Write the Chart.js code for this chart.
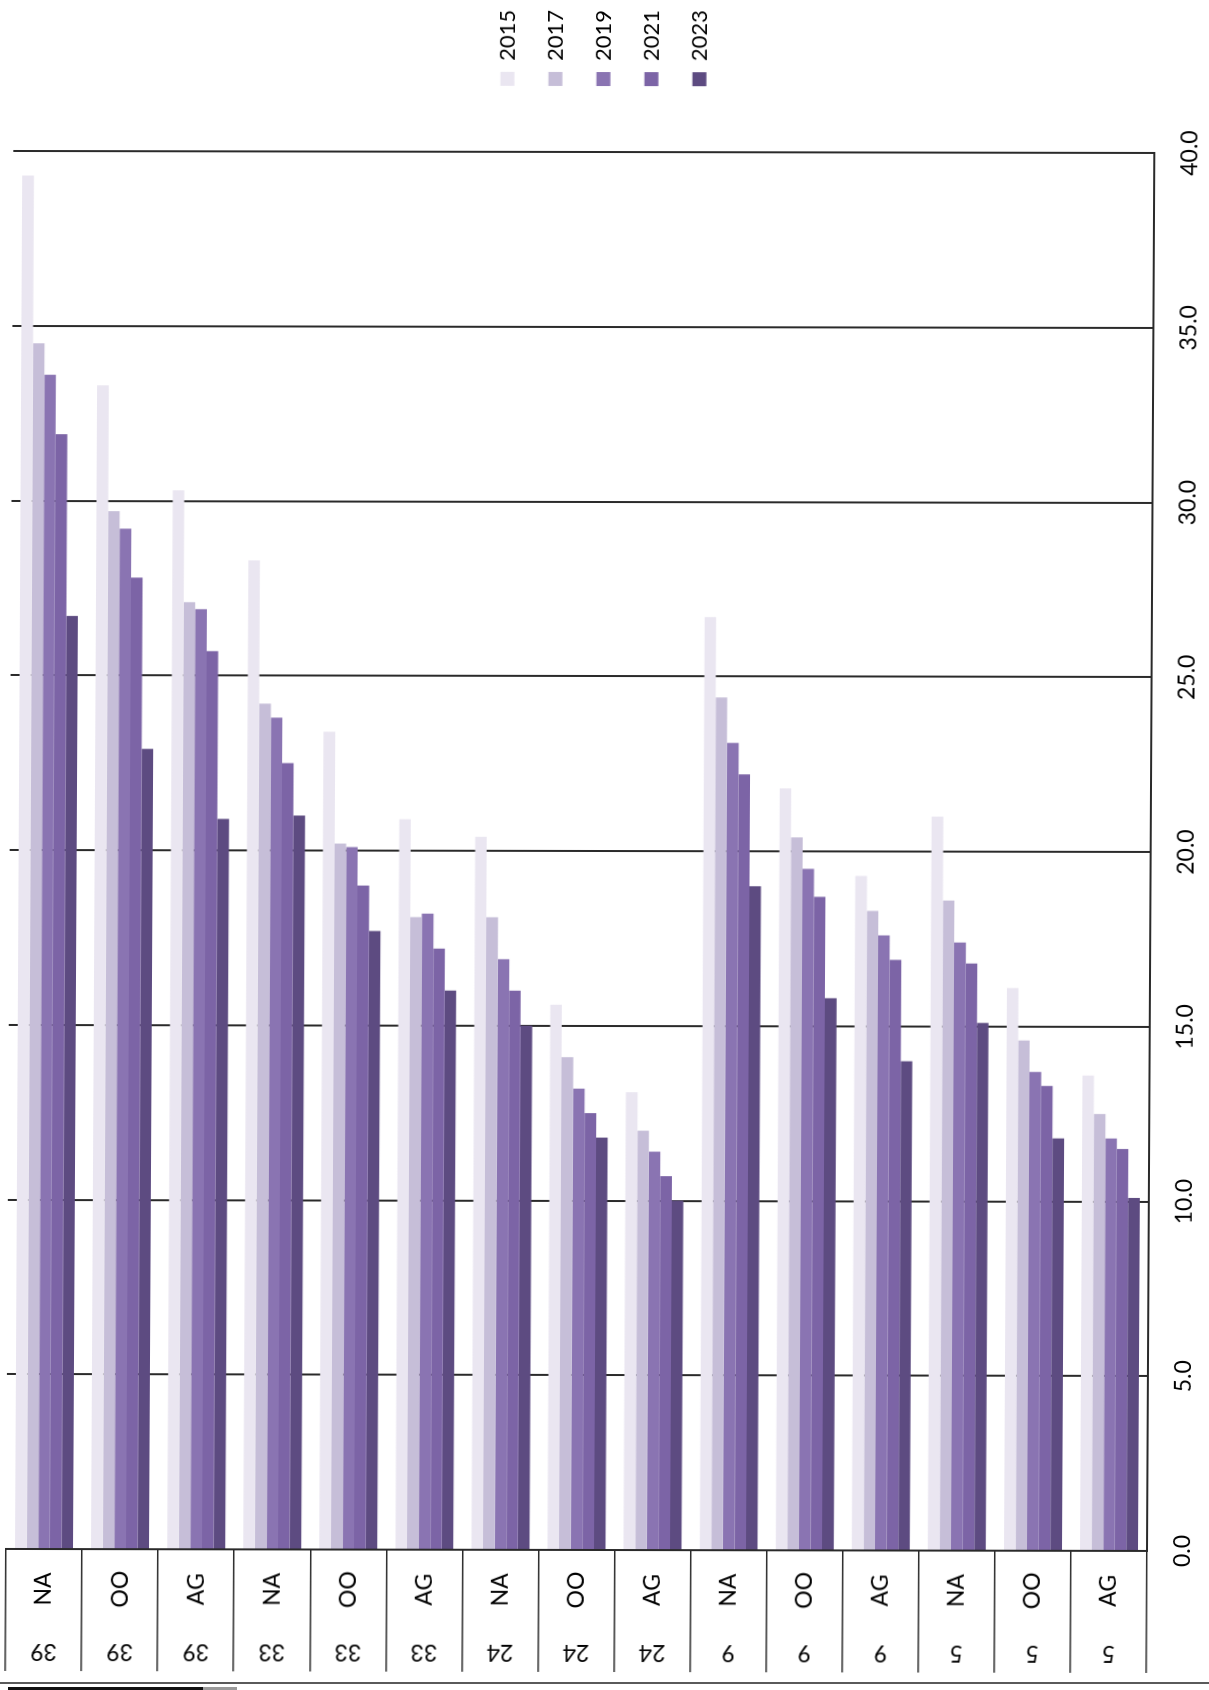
<!DOCTYPE html>
<html>
<head>
<meta charset="utf-8">
<title>Bar chart by group and year</title>
<script src="https://cdn.jsdelivr.net/npm/chart.js@4.4.1/dist/chart.umd.min.js"></script>
<style>
  html, body { margin: 0; padding: 0; background: #ffffff; }
  body { width: 1209px; height: 1690px; position: relative; overflow: hidden; }
  /* printed sheet sits very slightly askew on the page */
  #sheet {
    position: absolute; left: 0; top: 0; width: 1209px; height: 1690px;
    transform-origin: 600px 1550px;
    transform: rotate(0.1deg) skewX(-0.2deg);
  }
  /* the chart is laid out landscape and turned a quarter turn to sit on the portrait page */
  #turn {
    position: absolute; left: 0; top: 0;
    width: 1690px; height: 1209px;
    transform-origin: 0 0;
    transform: translate(0, 1690px) rotate(-90deg);
  }
  #page-edge { position: absolute; left: 0; top: 1682px; width: 1209px; height: 2px; background: #5a5a5a; }
  #edge-shadow { position: absolute; left: 8px; top: 1687px; width: 195px; height: 3px; background: #111111; }
  #edge-shadow2 { position: absolute; left: 203px; top: 1687px; width: 34px; height: 3px; background: #9a9a9a; }
</style>
</head>
<body>
<div id="sheet">
  <div id="turn"><canvas id="chart" width="1690" height="1209"></canvas></div>
</div>
<div id="page-edge"></div>
<div id="edge-shadow"></div>
<div id="edge-shadow2"></div>
<script>
// category labels: inner level and outer level
const innerLabels = ['NA', 'OO', 'AG', 'NA', 'OO', 'AG', 'NA', 'OO', 'AG', 'NA', 'OO', 'AG', 'NA', 'OO', 'AG'];
const outerLabels = ['39', '39', '39', '33', '33', '33', '24', '24', '24', '9', '9', '9', '5', '5', '5'];

// series, one per year
const years = ['2015', '2017', '2019', '2021', '2023'];
const values2015 = [39.3, 33.3, 30.3, 28.3, 23.4, 20.9, 20.4, 15.6, 13.1, 26.7, 21.8, 19.3, 21.0, 16.1, 13.6];
const values2017 = [34.5, 29.7, 27.1, 24.2, 20.2, 18.1, 18.1, 14.1, 12.0, 24.4, 20.4, 18.3, 18.6, 14.6, 12.5];
const values2019 = [33.6, 29.2, 26.9, 23.8, 20.1, 18.2, 16.9, 13.2, 11.4, 23.1, 19.5, 17.6, 17.4, 13.7, 11.8];
const values2021 = [31.9, 27.8, 25.7, 22.5, 19.0, 17.2, 16.0, 12.5, 10.7, 22.2, 18.7, 16.9, 16.8, 13.3, 11.5];
const values2023 = [26.7, 22.9, 20.9, 21.0, 17.7, 16.0, 15.0, 11.8, 10.0, 19.0, 15.8, 14.0, 15.1, 11.8, 10.1];

// value axis
const axisMin = 0;
const axisMax = 40;
const axisStep = 5;

const seriesValues = [values2015, values2017, values2019, values2021, values2023];
const seriesColors = ['#EAE6F1', '#C6BED8', '#8A74B2', '#7C64A6', '#5D4B81'];

const FONT = 'Lato';
const TEXT = '#000000';
const LINE = '#2a2a2a';

// writes the two-level category labels beside the category axis
const categoryTable = {
  id: 'categoryTable',
  afterDraw(chart) {
    const ctx = chart.ctx;
    const ys = chart.scales.y;
    const innerX = ys.right - 40;
    const outerX = ys.right - 102;
    ctx.save();
    ctx.fillStyle = TEXT;
    ctx.font = '23px ' + FONT;
    ctx.textAlign = 'center';
    ctx.textBaseline = 'middle';
    innerLabels.forEach((label, i) => {
      const y = ys.getPixelForValue(i);
      ctx.fillText(label, innerX, y);
      ctx.save();
      ctx.translate(outerX, y);
      ctx.rotate(-Math.PI / 2);
      ctx.fillText(outerLabels[i], 0, 0);
      ctx.restore();
    });
    ctx.restore();
  }
};

new Chart(document.getElementById('chart').getContext('2d'), {
  type: 'bar',
  data: {
    labels: innerLabels.map((t, i) => t + ' ' + outerLabels[i]),
    datasets: years.map((year, k) => ({
      label: year,
      data: seriesValues[k],
      backgroundColor: seriesColors[k],
      borderWidth: 0,
      categoryPercentage: 0.762,
      barPercentage: 1.0
    }))
  },
  options: {
    indexAxis: 'y',
    responsive: false,
    animation: false,
    devicePixelRatio: 1,
    layout: { padding: { top: 6, left: 0, right: 0, bottom: 0 } },
    plugins: {
      legend: {
        position: 'right',
        fullSize: false,
        // empty heading only reserves room above the legend entries
        title: { display: true, text: '', padding: 0, font: { size: 32, family: FONT } },
        labels: {
          boxWidth: 14,
          boxHeight: 14,
          padding: 26,
          color: TEXT,
          font: { size: 22, family: FONT }
        }
      },
      tooltip: { enabled: false }
    },
    scales: {
      x: {
        position: 'bottom',
        min: axisMin,
        max: axisMax,
        ticks: {
          stepSize: axisStep,
          callback: v => Number(v).toFixed(1),
          padding: 22,
          color: TEXT,
          font: { size: 23, family: FONT }
        },
        grid: { color: LINE, lineWidth: 2, drawTicks: false },
        border: { display: true, color: LINE, width: 2 },
        afterFit: s => { s.height = 62; }
      },
      y: {
        position: 'left',
        ticks: { display: false },
        grid: { offset: true, drawOnChartArea: false, drawTicks: true, tickLength: 122, color: LINE, lineWidth: 1.5 },
        border: { display: true, color: LINE, width: 2 },
        afterFit: s => { s.width = 140; }
      },
      gap: {
        type: 'linear',
        position: 'right',
        display: true,
        grid: { display: false },
        border: { display: false },
        ticks: { display: false },
        afterFit: s => { s.width = 40; }
      }
    }
  },
  plugins: [categoryTable]
});
</script>
</body>
</html>
